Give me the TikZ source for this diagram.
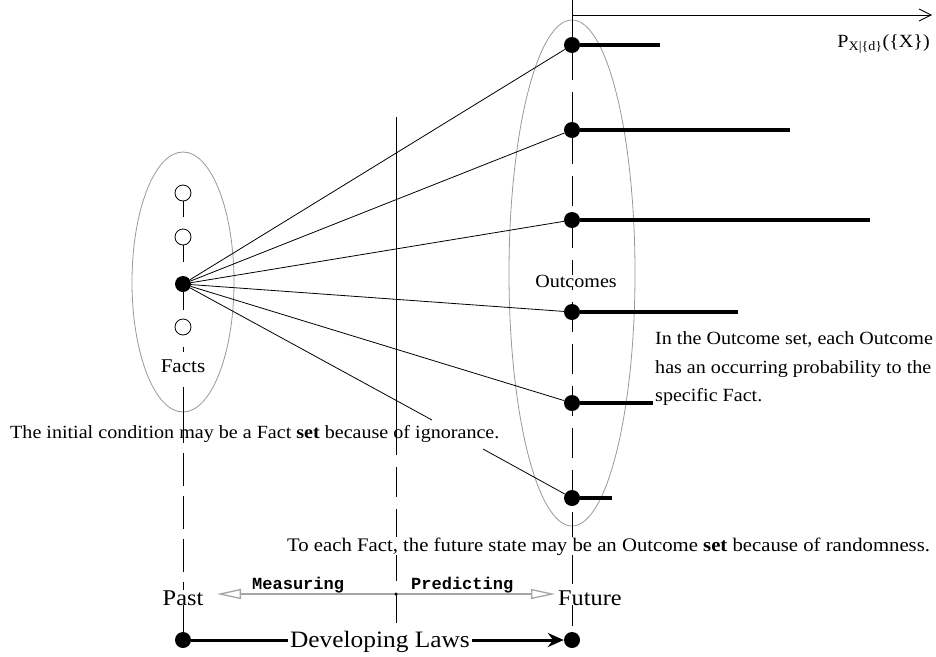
\documentclass[tikz,border=0pt]{standalone}
\usepackage{fontspec}
\setmainfont{Liberation Serif}[FakeStretch=1.08]
\newfontfamily\monob{Liberation Mono}[FakeStretch=1.0]
\usetikzlibrary{arrows.meta,backgrounds}
\begin{document}
\begin{tikzpicture}[x=1pt,y=-1pt,
  fan/.style={line width=0.8pt},
  bar/.style={line width=3.2pt},
  axis/.style={line width=0.9pt},
  dashaxis/.style={line width=0.9pt, dash pattern=on 30pt off 12pt},
  dotn/.style={circle, fill=black, inner sep=0pt, minimum size=16pt},
  smalldot/.style={circle, fill=black, inner sep=0pt, minimum size=3.5pt},
  odot/.style={circle, draw, fill=white, inner sep=0pt, minimum size=16pt, line width=0.8pt},
  ell/.style={draw=black!40, line width=0.8pt},
  body/.style={font=\fontsize{18.6}{28.5}\selectfont, inner sep=0pt},
  big/.style={font=\fontsize{22.5}{26}\selectfont, inner sep=0pt},
  mono/.style={font=\monob\bfseries\fontsize{17}{19}\selectfont, inner sep=0pt}
]
\useasboundingbox (0,0) rectangle (936,656);
% ---------- nodes ----------
\node[odot] (c1) at (183,193) {};
\node[odot] (c2) at (183,237) {};
\node[dotn] (f) at (183,284) {};
\node[odot] (c3) at (183,327) {};
\node[body, font=\fontsize{19.5}{22}\selectfont, anchor=base] (facts) at (183,372) {Facts};

\node[dotn] (o1) at (572,45) {};
\node[dotn] (o2) at (572,130) {};
\node[dotn] (o3) at (572,220) {};
\node[dotn] (o4) at (572,312) {};
\node[dotn] (o5) at (572,403) {};
\node[dotn] (o6) at (572,498) {};
\node[body, fill=white, anchor=base] (outc) at (576,287) {Outcomes};

\coordinate (e1) at (660,45);
\coordinate (e2) at (790,130);
\coordinate (e3) at (870,220);
\coordinate (e4) at (738,312);
\coordinate (e5) at (653,403);
\coordinate (e6) at (612,498);

\node[anchor=base east, inner sep=0pt, font=\fontsize{18.6}{21}\selectfont] (plabel) at (930,47) {P\textsubscript{X|\{d\}}(\{X\})};

\node[body, anchor=base west] (t1) at (10,438) {The initial condition may be a Fact \textbf{set} because of ignorance.};
\node[body, anchor=base west] (t2a) at (655,344) {In the Outcome set, each Outcome};
\node[body, anchor=base west] (t2b) at (655,373) {has an occurring probability to the};
\node[body, anchor=base west] (t2c) at (655,401) {specific Fact.};
\node[body, font=\fontsize{19.2}{28.5}\selectfont, fill=white, anchor=base west] (t3) at (287,551) {To each Fact, the future state may be an Outcome \textbf{set} because of randomness.};

\node[big, fill=white, anchor=base] (past) at (183,605) {Past};
\node[big, fill=white, anchor=base west] (future) at (558,605) {Future};
\node[mono, anchor=base west] (meas) at (252,589) {Measuring};
\node[mono, anchor=base west] (pred) at (411,589) {Predicting};
\node[smalldot] (md) at (396,594) {};

\node[dotn] (pd) at (183,640) {};
\node[dotn] (fd) at (572,640) {};
\node[fill=white, inner sep=2pt, font=\fontsize{23.5}{26}\selectfont, anchor=base] (dev) at (380,647) {Developing Laws};

% ---------- coordinates ----------
\coordinate (b1) at (432,420);
\coordinate (b2) at (483,449);
\coordinate (tk1) at (183,347);
\coordinate (tk2) at (183,352);
\coordinate (l1) at (183,443);
\coordinate (m1) at (396,117);
\coordinate (m2) at (396,455);
\coordinate (m3) at (396,632);
\coordinate (r0) at (572,0);
\coordinate (r1) at (572,28);
\coordinate (h0) at (572,15);
\coordinate (h1) at (932,15);
\coordinate (ga) at (217,594);
\coordinate (gb) at (555,594);

% ---------- lines on background ----------
\begin{scope}[on background layer]
\fill[white] (0,0) rectangle (936,656);
\draw[ell] (183,282) ellipse [x radius=51pt, y radius=130pt];
\draw[ell] (572,273) ellipse [x radius=63pt, y radius=253pt];
% left axis
\draw[axis, shorten >=12pt] (c1) -- (c2);
\draw[axis, shorten >=14pt] (c2) -- (f);
\draw[axis, shorten >=9pt] (f) -- (c3);
\draw[axis] (tk1) -- (tk2);
\draw[axis, shorten <=15pt] (facts.south) -- (l1);
\draw[axis, dash pattern=on 33pt off 10pt, dash phase=33pt] (l1) -- (past);
\draw[axis] (past) -- (pd);
% middle axis
\draw[axis] (m1) -- (m2);
\draw[dashaxis, dash phase=30pt] (m2) -- (m3);
% right axis
\draw[axis] (r0) -- (r1);
\draw[axis, -{Straight Barb[length=12pt,width=12pt]}] (h0) -- (h1);
\draw[dashaxis, dash phase=20pt] (r1) -- (fd);
% fan
\draw[fan] (f) -- (o1);
\draw[fan] (f) -- (o2);
\draw[fan] (f) -- (o3);
\draw[fan] (f) -- (o4);
\draw[fan] (f) -- (o5);
\draw[fan] (f) -- (b1);
\draw[fan] (b2) -- (o6);
% bars
\draw[bar] (o1) -- (e1);
\draw[bar] (o2) -- (e2);
\draw[bar] (o3) -- (e3);
\draw[bar] (o4) -- (e4);
\draw[bar] (o5) -- (e5);
\draw[bar] (o6) -- (e6);
% gray arrow
\draw[black!35, line width=1.3pt, {Triangle[open,length=24pt,width=10pt]}-{Triangle[open,length=24pt,width=10pt]}] (ga) -- (gb);
% developing laws
\draw[line width=3pt, -{Stealth[length=16pt,width=14pt]}] (pd) -- (fd);
\end{scope}
\end{tikzpicture}
\end{document}
